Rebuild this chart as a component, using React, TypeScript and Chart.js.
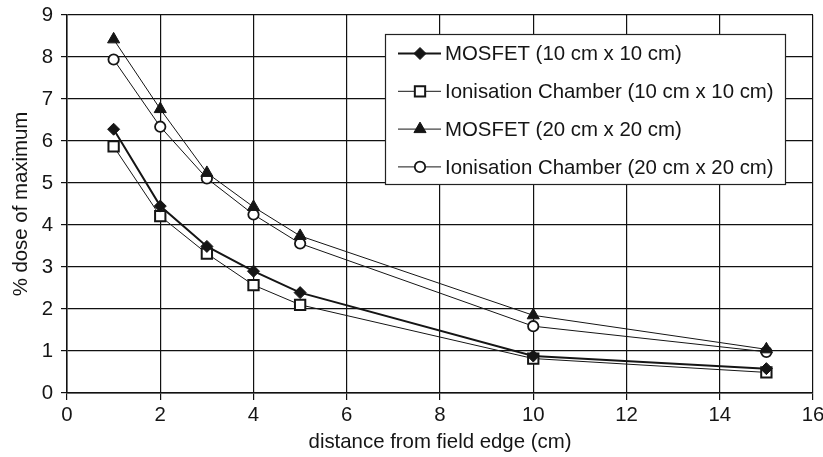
import React, { useEffect, useRef } from "react";
import { Chart, registerables } from "chart.js";
import { drawPoint } from "chart.js/helpers";

Chart.register(...registerables);

const distances = [1, 2, 3, 4, 5, 10, 15];
const mosfet10 = [6.28, 4.45, 3.49, 2.9, 2.39, 0.88, 0.58];
const chamber10 = [5.87, 4.21, 3.32, 2.57, 2.1, 0.82, 0.49];
const mosfet20 = [8.42, 6.76, 5.24, 4.43, 3.74, 1.85, 1.04];
const chamber20 = [7.94, 6.34, 5.11, 4.25, 3.56, 1.59, 0.98];
const seriesLabels = [
  "MOSFET (10 cm x 10 cm)",
  "Ionisation Chamber (10 cm x 10 cm)",
  "MOSFET (20 cm x 20 cm)",
  "Ionisation Chamber (20 cm x 20 cm)",
];
const xTitle = "distance from field edge (cm)";
const yTitle = "% dose of maximum";

const FONT = "'Liberation Sans', Arial, sans-serif";
const FS = 20.4;
const INK = "#151515";

const legendBox = {
  id: "legendBox",
  afterDatasetsDraw(chart: any) {
    const ctx = chart.ctx as CanvasRenderingContext2D;
    const bx = 385.5, by = 34.5, bw = 400, bh = 150;
    ctx.save();
    ctx.fillStyle = "#ffffff";
    ctx.fillRect(bx, by, bw, bh);
    ctx.strokeStyle = "#222";
    ctx.lineWidth = 1.2;
    ctx.strokeRect(bx, by, bw, bh);
    chart.data.datasets.forEach((ds: any, i: number) => {
      const y = 53.5 + i * 37.8;
      ctx.strokeStyle = INK;
      ctx.lineWidth = ds.borderWidth;
      ctx.beginPath();
      ctx.moveTo(398, y);
      ctx.lineTo(441, y);
      ctx.stroke();
      ctx.fillStyle = ds.pointBackgroundColor;
      ctx.strokeStyle = INK;
      ctx.lineWidth = ds.pointBorderWidth;
      drawPoint(ctx, { pointStyle: ds.pointStyle, radius: ds.pointRadius, borderWidth: ds.pointBorderWidth, rotation: 0 } as any, 420, y);
      ctx.fillStyle = INK;
      ctx.font = `${FS}px ${FONT}`;
      ctx.textBaseline = "middle";
      ctx.textAlign = "left";
      ctx.fillText(ds.label, 445, y + 1);
    });
    ctx.restore();
  },
};

export default function App() {
  const ref = useRef<HTMLCanvasElement>(null);
  useEffect(() => {
    if (!ref.current) return;
    const mk = (vals: number[]) => distances.map((x, i) => ({ x, y: vals[i] }));
    const chart = new Chart(ref.current, {
      type: "line",
      data: {
        datasets: [
          {
            label: seriesLabels[0],
            data: mk(mosfet10),
            borderColor: INK,
            borderWidth: 2,
            pointStyle: "rectRot",
            pointRadius: 6,
            pointBackgroundColor: INK,
            pointBorderColor: INK,
            pointBorderWidth: 1,
          },
          {
            label: seriesLabels[1],
            data: mk(chamber10),
            borderColor: INK,
            borderWidth: 1,
            pointStyle: "rect",
            pointRadius: 7.3,
            pointBackgroundColor: "#ffffff",
            pointBorderColor: INK,
            pointBorderWidth: 2,
          },
          {
            label: seriesLabels[2],
            data: mk(mosfet20),
            borderColor: INK,
            borderWidth: 1,
            pointStyle: "triangle",
            pointRadius: 7,
            pointBackgroundColor: INK,
            pointBorderColor: INK,
            pointBorderWidth: 1,
          },
          {
            label: seriesLabels[3],
            data: mk(chamber20),
            borderColor: INK,
            borderWidth: 1,
            pointStyle: "circle",
            pointRadius: 5.2,
            pointBackgroundColor: "#ffffff",
            pointBorderColor: INK,
            pointBorderWidth: 1.8,
          },
        ] as any,
      },
      plugins: [legendBox],
      options: {
        animation: false,
        responsive: false,
        devicePixelRatio: 1,
        layout: { padding: { top: 15, right: 10, left: 0, bottom: 0 } },
        plugins: { legend: { display: false }, tooltip: { enabled: false } },
        elements: { line: { tension: 0 } },
        scales: {
          x: {
            type: "linear",
            min: 0,
            max: 16,
            ticks: { stepSize: 2, color: INK, font: { family: FONT, size: FS }, padding: 3, maxRotation: 0 },
            grid: { color: "#111", lineWidth: 1.2, tickLength: 7, drawTicks: true },
            border: { color: "#111", width: 1.5 },
            title: { display: true, text: xTitle, color: INK, font: { family: FONT, size: FS }, padding: { top: 0, bottom: 2 } },
            afterFit: (s: any) => {
              s.height = 64;
              s.paddingLeft = 0;
              s.paddingRight = 0;
            },
          },
          y: {
            type: "linear",
            min: 0,
            max: 9,
            ticks: { stepSize: 1, color: INK, font: { family: FONT, size: FS }, padding: 8 },
            grid: { color: "#111", lineWidth: 1.2, tickLength: 6, drawTicks: true },
            border: { color: "#111", width: 1.5 },
            title: { display: true, text: yTitle, color: INK, font: { family: FONT, size: FS }, padding: { top: 9, bottom: 0 } },
            afterFit: (s: any) => {
              s.width = 67;
              s.paddingTop = 0;
              s.paddingBottom = 0;
            },
          },
        },
      } as any,
    });
    return () => chart.destroy();
  }, []);
  return (
    <div style={{ position: "absolute", left: 0, top: 0, width: 823, height: 457, background: "#fff" }}>
      <canvas ref={ref} width={823} height={457} style={{ display: "block" }} />
    </div>
  );
}
